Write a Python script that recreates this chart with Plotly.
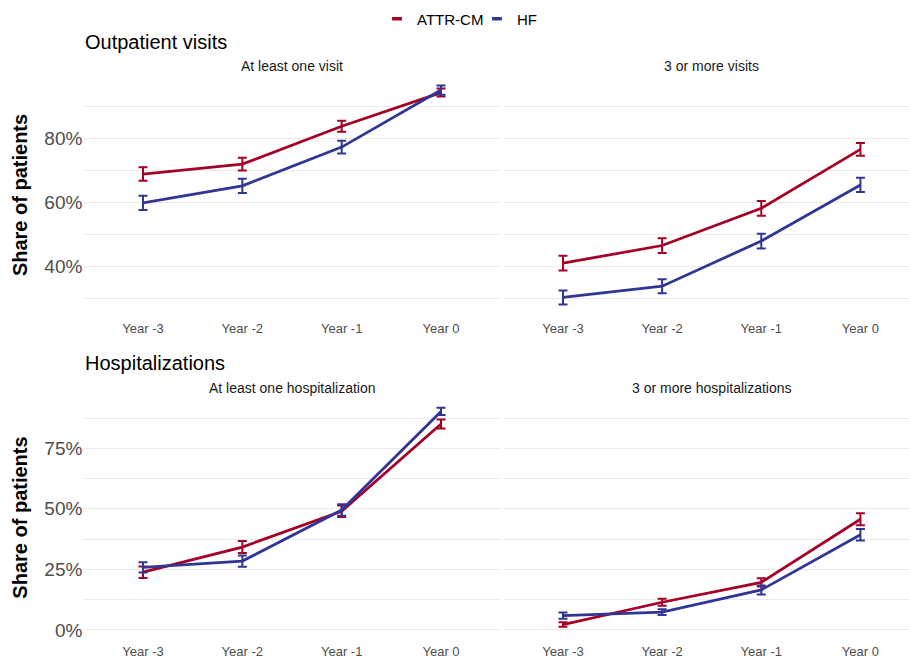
import plotly.graph_objects as go

years = ["Year -3", "Year -2", "Year -1", "Year 0"]
groups = ["ATTR-CM", "HF"]
colors = {"ATTR-CM": "#A50026", "HF": "#313695"}

# Outpatient visits (share of patients, %)
out_one_attr = [68.9, 72.0, 83.8, 94.3]
out_one_attr_err = [2.1, 2.0, 1.7, 1.25]
out_one_hf = [59.9, 65.2, 77.3, 95.1]
out_one_hf_err = [2.2, 2.2, 2.0, 1.45]

out_three_attr = [41.1, 46.6, 58.2, 76.6]
out_three_attr_err = [2.3, 2.3, 2.3, 2.0]
out_three_hf = [30.4, 33.9, 48.0, 65.5]
out_three_hf_err = [2.2, 2.2, 2.3, 2.2]

# Hospitalizations (share of patients, %)
hosp_one_attr = [23.8, 34.2, 49.0, 85.0]
hosp_one_attr_err = [2.4, 2.5, 2.4, 1.85]
hosp_one_hf = [25.8, 28.4, 49.5, 90.2]
hosp_one_hf_err = [2.1, 2.3, 2.4, 1.5]

hosp_three_attr = [2.2, 11.4, 19.6, 45.7]
hosp_three_attr_err = [0.9, 1.4, 1.7, 2.5]
hosp_three_hf = [5.9, 7.3, 16.5, 39.3]
hosp_three_hf_err = [1.3, 1.2, 1.85, 2.4]

panels = [
    ("x", "y", out_one_attr, out_one_attr_err, out_one_hf, out_one_hf_err),
    ("x2", "y2", out_three_attr, out_three_attr_err, out_three_hf, out_three_hf_err),
    ("x3", "y3", hosp_one_attr, hosp_one_attr_err, hosp_one_hf, hosp_one_hf_err),
    ("x4", "y4", hosp_three_attr, hosp_three_attr_err, hosp_three_hf, hosp_three_hf_err),
]

W, H = 909, 661
FONT = "Liberation Sans, Arial, sans-serif"

fig = go.Figure()
for xa, ya, a, ae, h, he in panels:
    for name, vals, errs in (("ATTR-CM", a, ae), ("HF", h, he)):
        fig.add_trace(go.Scatter(
            x=years, y=vals, xaxis=xa, yaxis=ya, mode="lines",
            line=dict(color=colors[name], width=2.8),
            error_y=dict(type="data", array=errs, visible=True,
                         color=colors[name], thickness=2, width=4.5),
            showlegend=False, name=name,
        ))

legend_ids = {"ATTR-CM": "legend", "HF": "legend2"}
for name in groups:
    fig.add_trace(go.Scatter(
        x=[None], y=[None], mode="markers", name=name, legend=legend_ids[name],
        marker=dict(symbol="line-ew", size=7, color=colors[name],
                    line=dict(color=colors[name], width=3.5)),
        showlegend=True,
    ))

def px_x(p):
    return p / W

def px_y(p):
    return 1 - p / H

left_dom = [px_x(83.4), px_x(500.6)]
right_dom = [px_x(503.5), 1.0]
top_dom = [px_y(316.5), px_y(75)]
bot_dom = [px_y(640.5), px_y(399)]

xcommon = dict(type="category", categoryorder="array", categoryarray=years,
               showgrid=False, zeroline=False, showline=False, ticks="",
               ticklabelstandoff=4,
               tickfont=dict(family=FONT, size=13, color="#4D4D4D"))
grid = "#EBEBEB"
ycommon = dict(showgrid=True, gridcolor=grid, gridwidth=1, zeroline=False,
               showline=False, ticks="", ticksuffix="%",
               tickfont=dict(family=FONT, size=19, color="#4D4D4D"))

legend_common = dict(orientation="h", xanchor="left", y=px_y(19), yanchor="middle",
                     font=dict(family=FONT, size=15, color="#000000"),
                     itemwidth=30, bgcolor="rgba(0,0,0,0)")

fig.update_layout(
    width=W, height=H, margin=dict(l=0, r=0, t=0, b=0),
    paper_bgcolor="white", plot_bgcolor="white",
    font=dict(family=FONT),
    xaxis=dict(domain=left_dom, anchor="y", range=[-0.6, 3.6], **xcommon),
    xaxis2=dict(domain=right_dom, anchor="y2", range=[-0.6, 3.49], **xcommon),
    xaxis3=dict(domain=left_dom, anchor="y3", range=[-0.6, 3.6], **xcommon),
    xaxis4=dict(domain=right_dom, anchor="y4", range=[-0.6, 3.49], **xcommon),
    yaxis=dict(domain=top_dom, anchor="x", range=[24.9, 99.9], tick0=0, dtick=20,
               minor=dict(tick0=0, dtick=10, showgrid=True, gridcolor=grid, gridwidth=0.6),
               **ycommon),
    yaxis2=dict(domain=top_dom, anchor="x2", range=[24.9, 99.9], tick0=0, dtick=20,
                showticklabels=False,
                minor=dict(tick0=0, dtick=10, showgrid=True, gridcolor=grid, gridwidth=0.6),
                **ycommon),
    yaxis3=dict(domain=bot_dom, anchor="x3", range=[-3.2, 96.1], tick0=0, dtick=25,
                minor=dict(tick0=0, dtick=12.5, showgrid=True, gridcolor=grid, gridwidth=0.6),
                **ycommon),
    yaxis4=dict(domain=bot_dom, anchor="x4", range=[-3.2, 96.1], tick0=0, dtick=25,
                showticklabels=False,
                minor=dict(tick0=0, dtick=12.5, showgrid=True, gridcolor=grid, gridwidth=0.6),
                **ycommon),
    legend=dict(x=px_x(377), **legend_common),
    legend2=dict(x=px_x(477), **legend_common),
    showlegend=True,
)

annotations = [
    dict(text="Outpatient visits", x=px_x(83), y=px_y(42), xanchor="left", yanchor="middle",
         font=dict(family=FONT, size=20, color="#000000")),
    dict(text="Hospitalizations", x=px_x(83), y=px_y(365), xanchor="left", yanchor="middle",
         font=dict(family=FONT, size=20, color="#000000")),
    dict(text="At least one visit", x=px_x(292), y=px_y(66), xanchor="center", yanchor="middle",
         font=dict(family=FONT, size=14, color="#1A1A1A")),
    dict(text="3 or more visits", x=px_x(711.6), y=px_y(66), xanchor="center", yanchor="middle",
         font=dict(family=FONT, size=14, color="#1A1A1A")),
    dict(text="At least one hospitalization", x=px_x(292), y=px_y(390), xanchor="center",
         yanchor="middle", font=dict(family=FONT, size=14, color="#1A1A1A")),
    dict(text="3 or more hospitalizations", x=px_x(711.6), y=px_y(390), xanchor="center",
         yanchor="middle", font=dict(family=FONT, size=14, color="#1A1A1A")),
    dict(text="<b>Share of patients</b>", x=px_x(20), y=px_y(196), textangle=-90,
         xanchor="center", yanchor="middle", font=dict(family=FONT, size=20, color="#000000")),
    dict(text="<b>Share of patients</b>", x=px_x(20), y=px_y(520), textangle=-90,
         xanchor="center", yanchor="middle", font=dict(family=FONT, size=20, color="#000000")),
]
for a in annotations:
    a.update(xref="paper", yref="paper", showarrow=False)
fig.update_layout(annotations=annotations)

fig.write_html(
    "out.html",
    config={"displayModeBar": False},
    post_script="document.body.style.margin='0';document.body.style.overflow='hidden';",
)
